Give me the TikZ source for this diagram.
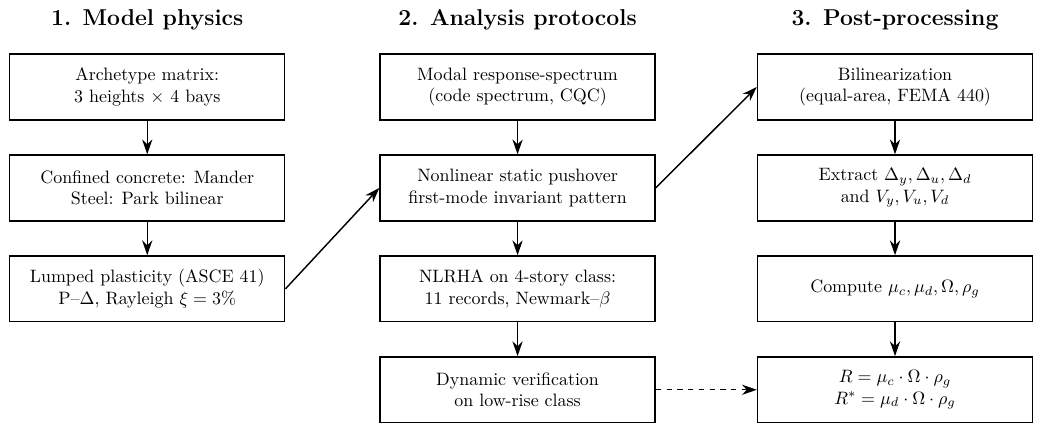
\documentclass[tikz,border=0pt]{standalone}
\usepackage{tikz}
\usetikzlibrary{positioning,arrows.meta}
\begin{document}
\begin{tikzpicture}[node distance=0.66cm and 1.84cm, box/.style={draw,thick,align=center,minimum width=5.39cm,minimum height=1.29cm}, title/.style={font=\fontsize{12.8}{15}\selectfont\bfseries,anchor=base}, >={Stealth[length=2.9mm,width=2mm]}]
\useasboundingbox (0,0) rectangle (20.384,-8.448);
% column 1
\node[box] (arch) at (2.886,-1.705) {Archetype matrix:\\3 heights $\times$ 4 bays};
\node[box,below=of arch] (mat) {Confined concrete: Mander\\Steel: Park bilinear};
\node[box,below=of mat] (plast) {Lumped plasticity (ASCE 41)\\P--$\Delta$, Rayleigh $\xi = 3\%$};
% column 2
\node[box,right=of arch] (rsa) {Modal response-spectrum\\(code spectrum, CQC)};
\node[box,below=of rsa] (push) {Nonlinear static pushover\\first-mode invariant pattern};
\node[box,below=of push] (nlrha) {NLRHA on 4-story class:\\11 records, Newmark--$\beta$};
\node[box,below=of nlrha] (dyn) {Dynamic verification\\on low-rise class};
% column 3
\node[box,right=1.98cm of rsa] (bilin) {Bilinearization\\(equal-area, FEMA 440)};
\node[box,below=of bilin] (extr) {Extract $\Delta_y, \Delta_u, \Delta_d$\\and $V_y, V_u, V_d$};
\node[box,below=of extr] (comp) {Compute $\mu_c, \mu_d, \Omega, \rho_g$};
\node[box,below=of comp] (rfac) {$R = \mu_c \cdot \Omega \cdot \rho_g$\\$R^{*} = \mu_d \cdot \Omega \cdot \rho_g$};
% headings
\node[title] (t1) at ([yshift=0.55cm]arch.north) {1. Model physics};
\node[title] (t2) at ([yshift=0.55cm]rsa.north) {2. Analysis protocols};
\node[title] (t3) at ([yshift=0.55cm]bilin.north) {3. Post-processing};
\draw[->,thick] (arch) -- (mat);
\draw[->,thick] (mat) -- (plast);
\draw[->,thick] (rsa) -- (push);
\draw[->,thick] (push) -- (nlrha);
\draw[->,thick] (nlrha) -- (dyn);
\draw[->,thick] (bilin) -- (extr);
\draw[->,thick] (extr) -- (comp);
\draw[->,thick] (comp) -- (rfac);
\draw[->,thick] (plast.east) -- (push.west);
\draw[->,thick] (push.east) -- (bilin.west);
\draw[->,thick,dashed] (dyn) -- (rfac);
\end{tikzpicture}
\end{document}
